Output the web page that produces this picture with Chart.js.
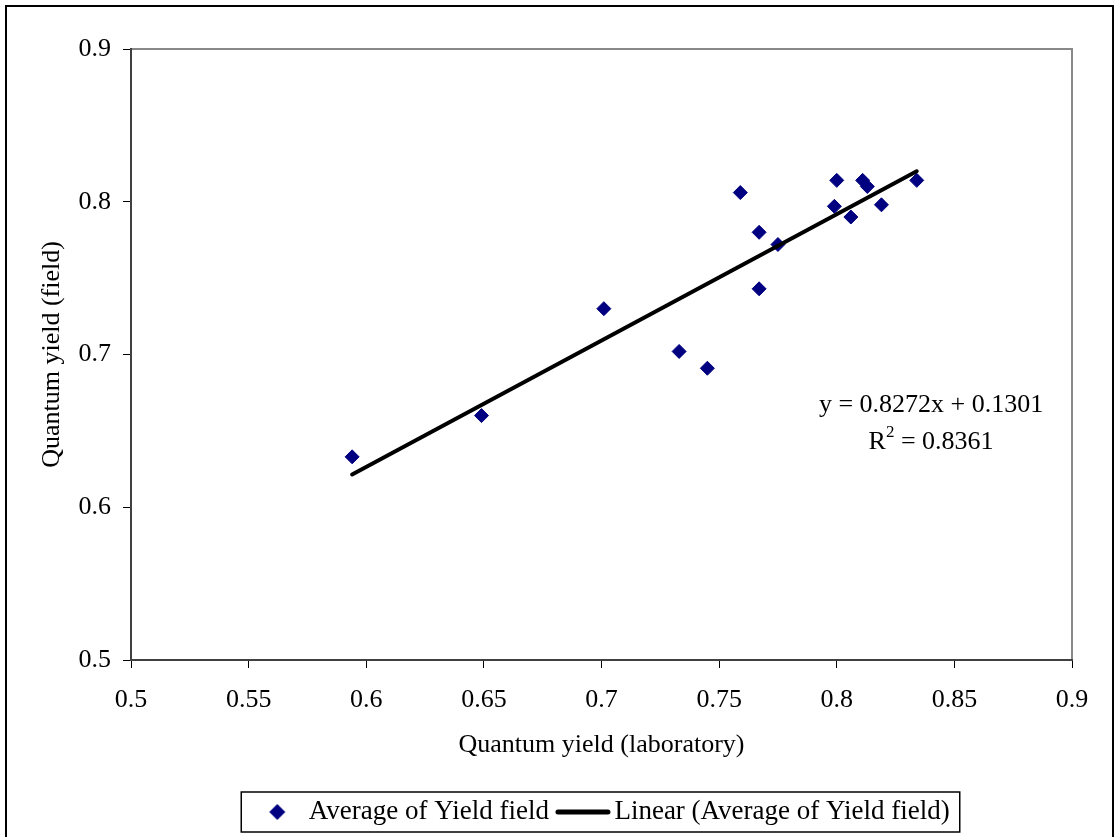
<!DOCTYPE html>
<html lang="en">
<head>
<meta charset="UTF-8">
<title>Quantum yield: field vs laboratory</title>
<script src="https://cdn.jsdelivr.net/npm/chart.js@4.4.1/dist/chart.umd.min.js"></script>
<style>
    html, body { margin: 0; padding: 0; background: #fff; }
    #wrap { width: 1115px; height: 837px; }
</style>
</head>
<body>
<div id="wrap"><canvas id="myChart" width="1115" height="837"></canvas></div>
<script>
    // measured pairs: laboratory yield (x) against averaged field yield (y)
    const labYield   = [0.594, 0.649, 0.701, 0.733, 0.745, 0.759, 0.767, 0.767, 0.775, 0.799, 0.800, 0.806, 0.811, 0.813, 0.819, 0.834];
    const fieldYield = [0.633, 0.660, 0.730, 0.702, 0.691, 0.806, 0.780, 0.743, 0.772, 0.797, 0.814, 0.790, 0.814, 0.810, 0.798, 0.814];

    // linear trend as reported
    const slope = 0.8272;
    const intercept = 0.1301;
    const rSquared = 0.8361;

    const seriesNames = ['Average of Yield field', 'Linear (Average of Yield field)'];

    const FONT = 'Liberation Serif, Times New Roman, serif';
    const NAVY = '#000080';

    const points = labYield.map((x, i) => ({ x: x, y: fieldYield[i] }));
    const xLo = Math.min(...labYield);
    const xHi = Math.max(...labYield);
    const trend = [xLo, xHi].map(x => ({ x: x, y: slope * x + intercept }));

    // little canvases used as legend symbols
    function diamondIcon() {
        const c = document.createElement('canvas');
        c.width = 18; c.height = 18;
        const g = c.getContext('2d');
        g.fillStyle = NAVY;
        g.beginPath();
        g.moveTo(9, 1); g.lineTo(17, 9); g.lineTo(9, 17); g.lineTo(1, 9);
        g.closePath();
        g.fill();
        return c;
    }
    function lineIcon() {
        const c = document.createElement('canvas');
        c.width = 58; c.height = 10;
        const g = c.getContext('2d');
        g.strokeStyle = '#000';
        g.lineWidth = 5;
        g.lineCap = 'round';
        g.beginPath();
        g.moveTo(4, 5); g.lineTo(54, 5);
        g.stroke();
        return c;
    }
    const legendIcons = [diamondIcon(), lineIcon()];

    const fmt = v => String(+Number(v).toFixed(2));

    // grey frame round the plot, outer border, legend box
    const framePlugin = {
        id: 'frame',
        afterLayout(chart) {
            // legend sits a little right of the plot centre
            chart.legend.left += 3;
            chart.legend.right += 3;
        },
        beforeDraw(chart) {
            const ctx = chart.ctx, a = chart.chartArea;
            ctx.save();
            ctx.strokeStyle = '#888';
            ctx.lineWidth = 2;
            ctx.strokeRect(a.left, a.top, a.right - a.left, a.bottom - a.top);
            ctx.restore();
        },
        afterDraw(chart) {
            const ctx = chart.ctx;
            ctx.save();
            ctx.strokeStyle = '#000';
            ctx.lineWidth = 2;
            ctx.strokeRect(6, 6, 1107, 900);

            const boxes = chart.legend.legendHitBoxes;
            if (boxes && boxes.length) {
                const first = boxes[0], last = boxes[boxes.length - 1];
                const l = first.left - 18;
                const r = last.left + last.width + 10;
                const t = first.top - 6.5;
                const b = first.top + first.height + 6.5;
                ctx.strokeStyle = '#000';
                ctx.lineWidth = 1.5;
                ctx.strokeRect(l, t, r - l, b - t);
            }
            ctx.restore();
        }
    };

    // regression equation and R squared
    const equationPlugin = {
        id: 'equation',
        afterDatasetsDraw(chart) {
            const ctx = chart.ctx;
            const xs = chart.scales.x, ys = chart.scales.y;
            const cx = xs.getPixelForValue(0.8401);
            const y1 = ys.getPixelForValue(0.6623);
            const y2 = y1 + 37;
            ctx.save();
            ctx.fillStyle = '#000';
            ctx.textBaseline = 'alphabetic';
            ctx.font = '26px ' + FONT;
            ctx.textAlign = 'center';
            ctx.fillText('y = ' + slope + 'x + ' + intercept, cx, y1);

            ctx.textAlign = 'left';
            const rest = ' = ' + rSquared;
            ctx.font = '26px ' + FONT;
            const wR = ctx.measureText('R').width;
            const wRest = ctx.measureText(rest).width;
            ctx.font = '17px ' + FONT;
            const wSup = ctx.measureText('2').width;
            let x0 = cx - (wR + wSup + wRest) / 2;
            ctx.font = '26px ' + FONT;
            ctx.fillText('R', x0, y2);
            ctx.font = '17px ' + FONT;
            ctx.fillText('2', x0 + wR, y2 - 12);
            ctx.font = '26px ' + FONT;
            ctx.fillText(rest, x0 + wR + wSup, y2);
            ctx.restore();
        }
    };

    const ctx = document.getElementById('myChart').getContext('2d');
    const myChart = new Chart(ctx, {
        type: 'scatter',
        data: {
            datasets: [{
                label: seriesNames[0],
                data: points,
                pointStyle: 'rectRot',
                pointRadius: 7,
                pointHoverRadius: 7,
                backgroundColor: NAVY,
                borderColor: NAVY,
                borderWidth: 1,
                order: 1
            }, {
                label: seriesNames[1],
                data: trend,
                showLine: true,
                pointRadius: 0,
                borderColor: '#000',
                backgroundColor: '#000',
                borderWidth: 4,
                borderCapStyle: 'round',
                order: 0
            }]
        },
        options: {
            responsive: false,
            animation: false,
            devicePixelRatio: 1,
            layout: { padding: { top: 49, right: 43, bottom: 1.5, left: 0 } },
            scales: {
                x: {
                    type: 'linear',
                    min: 0.5,
                    max: 0.9,
                    afterFit(scale) { scale.height = 122.5; },
                    ticks: {
                        stepSize: 0.05,
                        padding: 17,
                        color: '#000',
                        font: { family: FONT, size: 26 },
                        callback: fmt
                    },
                    grid: { drawOnChartArea: false, drawTicks: true, tickLength: 8, color: '#000', lineWidth: 1 },
                    border: { color: '#404040', width: 2 },
                    title: {
                        display: true,
                        text: 'Quantum yield (laboratory)',
                        color: '#000',
                        font: { family: FONT, size: 26 },
                        padding: { top: 0, bottom: 22 }
                    }
                },
                y: {
                    type: 'linear',
                    min: 0.5,
                    max: 0.9,
                    afterFit(scale) { scale.width = 131; },
                    ticks: {
                        stepSize: 0.1,
                        padding: 12,
                        color: '#000',
                        font: { family: FONT, size: 26 },
                        callback: fmt
                    },
                    grid: { drawOnChartArea: false, drawTicks: true, tickLength: 8, color: '#000', lineWidth: 1 },
                    border: { color: '#404040', width: 2 },
                    title: {
                        display: true,
                        text: 'Quantum yield (field)',
                        color: '#000',
                        font: { family: FONT, size: 26 },
                        padding: { top: 37, bottom: 0 }
                    }
                }
            },
            plugins: {
                tooltip: { enabled: false },
                legend: {
                    position: 'bottom',
                    fullSize: false,
                    labels: {
                        usePointStyle: true,
                        pointStyleWidth: 36,
                        padding: 16,
                        color: '#000',
                        font: { family: FONT, size: 27 },
                        sort: (a, b) => a.datasetIndex - b.datasetIndex,
                        generateLabels(chart) {
                            const items = Chart.defaults.plugins.legend.labels.generateLabels(chart);
                            items.forEach(it => { it.pointStyle = legendIcons[it.datasetIndex]; });
                            return items;
                        }
                    }
                }
            }
        },
        plugins: [framePlugin, equationPlugin]
    });
</script>
</body>
</html>
